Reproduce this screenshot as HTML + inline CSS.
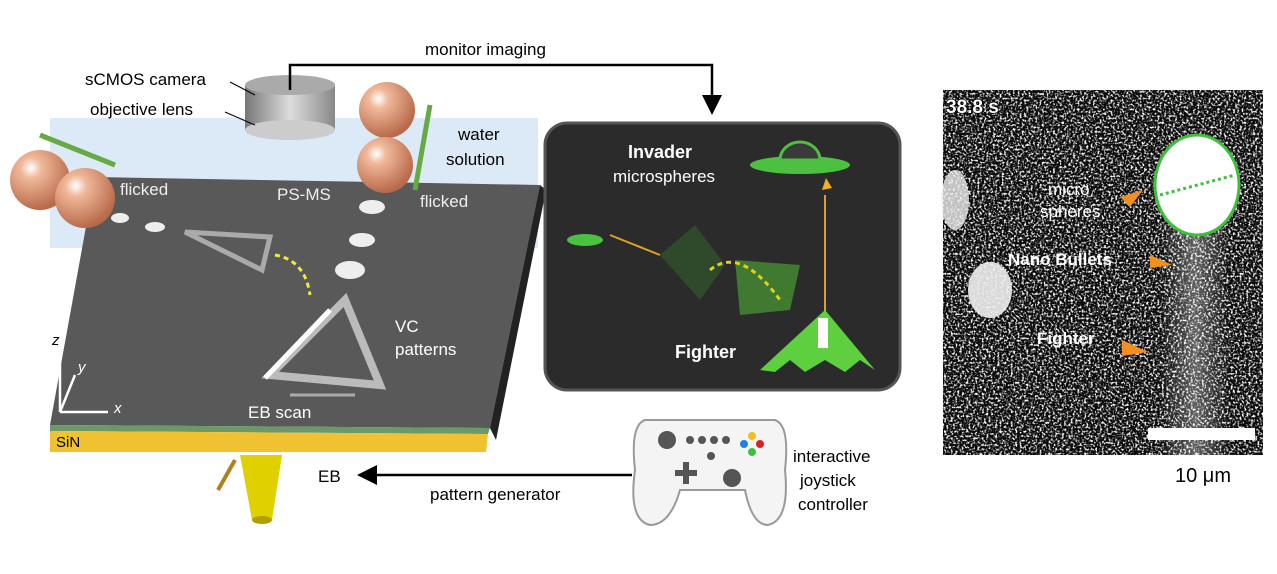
<!DOCTYPE html>
<html><head><meta charset="utf-8"><style>
body{margin:0;background:#fff;width:1277px;height:569px;overflow:hidden}
text{font-family:"Liberation Sans",sans-serif}
</style></head><body>
<svg width="1277" height="569" viewBox="0 0 1277 569" xmlns="http://www.w3.org/2000/svg">
<defs>
<filter id="noise" x="0" y="0" width="100%" height="100%">
<feTurbulence type="fractalNoise" baseFrequency="0.45" numOctaves="2" seed="3"/>
<feColorMatrix type="matrix" values="0 0 0 0 1  0 0 0 0 1  0 0 0 0 1  4 0 0 0 -1.9"/>
</filter>
<radialGradient id="ball" cx="0.35" cy="0.3" r="0.7">
<stop offset="0" stop-color="#fff"/><stop offset="0.25" stop-color="#f0b89a"/><stop offset="1" stop-color="#b86a4a"/></radialGradient>
<linearGradient id="cyl" x1="0" x2="1"><stop offset="0" stop-color="#777"/><stop offset="0.5" stop-color="#ddd"/><stop offset="1" stop-color="#888"/></linearGradient>
<linearGradient id="band" x1="0" x2="1"><stop offset="0" stop-color="#fff" stop-opacity="0"/><stop offset="0.5" stop-color="#fff" stop-opacity="0.35"/><stop offset="1" stop-color="#fff" stop-opacity="0"/></linearGradient>
<marker id="ah" markerWidth="8" markerHeight="8" refX="6" refY="4" orient="auto"><path d="M0,0 L8,4 L0,8z" fill="#000"/></marker>
</defs>
<rect x="50" y="118" width="488" height="130" fill="#dce9f6"/>
<polygon points="95,177 540,185 490,428 50,425" fill="#595959"/>
<polygon points="540,185 546,190 496,440 490,428" fill="#222"/>
<polygon points="50,425 490,428 488,434 50,431" fill="#6a9a6a"/>
<polygon points="50,431 488,434 486,452 50,452" fill="#f0c232"/>
<text x="56" y="447" font-size="15" fill="#000">SiN</text>
<polygon points="240,455 282,455 272,520 252,520" fill="#e0d000"/>
<ellipse cx="262" cy="520" rx="10" ry="4" fill="#b0a000"/>
<line x1="235" y1="460" x2="218" y2="490" stroke="#b08020" stroke-width="4"/>
<text x="318" y="482" font-size="17">EB</text>
<line x1="632" y1="475" x2="362" y2="475" stroke="#000" stroke-width="2.5" marker-end="url(#ah)"/>
<text x="430" y="500" font-size="17">pattern generator</text>
<rect x="245" y="85" width="90" height="45" fill="url(#cyl)"/>
<ellipse cx="290" cy="85" rx="45" ry="10" fill="#aaa"/>
<ellipse cx="290" cy="130" rx="45" ry="10" fill="#ccc"/>
<text x="85" y="85" font-size="17">sCMOS camera</text>
<text x="90" y="115" font-size="17">objective lens</text>
<line x1="230" y1="82" x2="255" y2="95" stroke="#000"/>
<line x1="225" y1="112" x2="255" y2="125" stroke="#000"/>
<polyline points="290,90 290,65 712,65 712,110" fill="none" stroke="#000" stroke-width="2.5" marker-end="url(#ah)"/>
<text x="425" y="55" font-size="17">monitor imaging</text>
<line x1="115" y1="165" x2="40" y2="135" stroke="#66aa44" stroke-width="5"/>
<circle cx="40" cy="180" r="30" fill="url(#ball)"/>
<circle cx="85" cy="198" r="30" fill="url(#ball)"/>
<line x1="415" y1="190" x2="430" y2="105" stroke="#66aa44" stroke-width="5"/>
<circle cx="387" cy="110" r="28" fill="url(#ball)"/>
<circle cx="385" cy="165" r="28" fill="url(#ball)"/>
<text x="120" y="195" font-size="17" fill="#eee">flicked</text>
<text x="420" y="207" font-size="17" fill="#eee">flicked</text>
<text x="277" y="200" font-size="17" fill="#eee">PS-MS</text>
<text x="458" y="140" font-size="17">water</text>
<text x="446" y="165" font-size="17">solution</text>
<g fill="#eee"><ellipse cx="120" cy="218" rx="9" ry="5"/><ellipse cx="155" cy="227" rx="10" ry="5"/><ellipse cx="372" cy="207" rx="13" ry="7"/><ellipse cx="362" cy="240" rx="13" ry="7"/><ellipse cx="350" cy="270" rx="15" ry="9"/></g>
<polygon points="185,232 270,237 262,270" fill="none" stroke="#aaa" stroke-width="5"/>
<path d="M275,255 Q305,260 310,295" fill="none" stroke="#eeea40" stroke-width="3" stroke-dasharray="5,4"/>
<polygon points="270,375 345,300 380,385" fill="none" stroke="#bbb" stroke-width="8"/>
<line x1="330" y1="310" x2="265" y2="378" stroke="#fff" stroke-width="5"/>
<line x1="290" y1="395" x2="355" y2="395" stroke="#aaa" stroke-width="3"/>
<text x="395" y="332" font-size="17" fill="#fff">VC</text>
<text x="395" y="355" font-size="17" fill="#fff">patterns</text>
<text x="248" y="418" font-size="17" fill="#fff">EB scan</text>
<g stroke="#fff" stroke-width="2.5" fill="none"><line x1="60" y1="412" x2="60" y2="345"/><line x1="60" y1="412" x2="108" y2="412"/><line x1="60" y1="412" x2="75" y2="375"/></g>
<text x="52" y="345" font-size="15" fill="#000" font-style="italic">z</text>
<text x="78" y="372" font-size="15" fill="#fff" font-style="italic">y</text>
<text x="114" y="413" font-size="15" fill="#fff" font-style="italic">x</text>
<rect x="545" y="123" width="355" height="267" rx="22" fill="#2b2b2b" stroke="#555" stroke-width="3"/>
<text x="628" y="158" font-size="18" font-weight="bold" fill="#fff">Invader</text>
<text x="613" y="182" font-size="17" fill="#fff">microspheres</text>
<ellipse cx="800" cy="165" rx="50" ry="9" fill="#4cc040"/>
<path d="M780,160 A20,18 0 0 1 820,160z" fill="#3a3a3a" stroke="#4cc040" stroke-width="3"/>
<polygon points="826,178 832,188 822,190" fill="#f0b020"/>
<line x1="825" y1="195" x2="825" y2="315" stroke="#e0a020" stroke-width="2"/>
<ellipse cx="585" cy="240" rx="18" ry="6" fill="#4cc040"/>
<line x1="610" y1="235" x2="660" y2="255" stroke="#e0a020" stroke-width="2"/>
<polygon points="660,255 695,225 725,265 700,300" fill="#2f4a2a"/>
<polygon points="735,260 800,265 790,310 740,315" fill="#3f7a30"/>
<path d="M710,270 Q740,245 780,300" fill="none" stroke="#e0d020" stroke-width="3" stroke-dasharray="5,4"/>
<polygon points="760,370 825,310 875,370 860,360 845,372 825,360 805,372 790,360 775,372" fill="#5ed040"/>
<rect x="818" y="318" width="10" height="30" fill="#fff"/>
<text x="675" y="358" font-size="18" font-weight="bold" fill="#fff">Fighter</text>
<path d="M645,420 H775 Q790,425 785,470 Q790,520 768,525 Q752,525 745,490 H680 Q670,525 650,525 Q628,520 635,470 Q630,425 645,420z" fill="#f4f4f4" stroke="#999" stroke-width="2"/>
<circle cx="667" cy="440" r="9" fill="#555"/>
<circle cx="732" cy="478" r="9" fill="#555"/>
<g fill="#555"><circle cx="690" cy="440" r="4"/><circle cx="702" cy="440" r="4"/><circle cx="714" cy="440" r="4"/><circle cx="726" cy="440" r="4"/><circle cx="711" cy="456" r="4"/></g>
<rect x="675" y="470" width="22" height="6" fill="#555"/><rect x="683" y="462" width="6" height="22" fill="#555"/>
<circle cx="752" cy="436" r="4" fill="#f0c020"/><circle cx="760" cy="444" r="4" fill="#e02020"/><circle cx="744" cy="444" r="4" fill="#2080e0"/><circle cx="752" cy="452" r="4" fill="#40c040"/>
<text x="793" y="462" font-size="17">interactive</text>
<text x="800" y="486" font-size="17">joystick</text>
<text x="798" y="510" font-size="17">controller</text>
<rect x="943" y="90" width="320" height="365" fill="#0a0a0a"/>
<rect x="943" y="90" width="320" height="365" filter="url(#noise)"/>
<rect x="1160" y="220" width="70" height="235" fill="url(#band)"/>
<ellipse cx="990" cy="290" rx="22" ry="28" fill="#eee" opacity="0.9"/>
<ellipse cx="955" cy="200" rx="14" ry="30" fill="#eee" opacity="0.8"/>
<ellipse cx="1197" cy="185" rx="42" ry="50" fill="#fff" stroke="#3ec03e" stroke-width="3"/>
<line x1="1160" y1="195" x2="1235" y2="175" stroke="#3ec03e" stroke-width="3" stroke-dasharray="3,3"/>
<rect x="1148" y="428" width="107" height="12" fill="#fff"/>
<text x="946" y="113" font-size="19" font-weight="bold" fill="#fff" stroke="#000" stroke-width="1.5" paint-order="stroke">38.8 s</text>
<text x="1048" y="195" font-size="17" fill="#fff">micro</text>
<text x="1040" y="217" font-size="17" fill="#fff">spheres</text>
<polygon points="1120,197 1143,190 1130,207" fill="#f09020"/>
<text x="1008" y="265" font-size="17" font-weight="bold" fill="#fff">Nano Bullets</text>
<polygon points="1150,255 1172,265 1150,268" fill="#f09020"/>
<text x="1037" y="344" font-size="17" font-weight="bold" fill="#fff">Fighter</text>
<polygon points="1122,340 1148,352 1122,356" fill="#f09020"/>
<text x="1175" y="482" font-size="20">10 μm</text>
</svg>
</body></html>
